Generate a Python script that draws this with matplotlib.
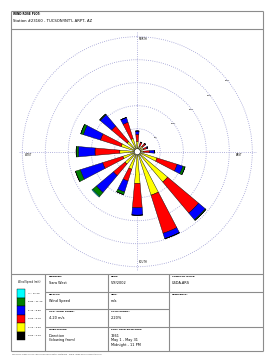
import numpy as np
import matplotlib
matplotlib.use("Agg")
import matplotlib.pyplot as plt

# ---------------- data ----------------
directions = ["N", "NNE", "NE", "ENE", "E", "ESE", "SE", "SSE",
              "S", "SSW", "SW", "WSW", "W", "WNW", "NW", "NNW"]
dir_angles_deg = [0, 22.5, 45, 67.5, 90, 112.5, 135, 157.5,
                  180, 202.5, 225, 247.5, 270, 292.5, 315, 337.5]

speed_classes = ["0.50 - 2.10", "2.10 - 3.60", "3.60 - 5.70",
                 "5.70 - 8.80", "8.80 - 11.10", ">= 11.10"]
class_colors = ["#000000", "#ffff00", "#ff0000", "#0000ff", "#008000", "#00ffff"]

# frequency (%) per direction for each speed class
freq_0_5_2_1 = [0.3, 0.3, 0.3, 0.3, 0.3, 0.3, 0.3, 0.3, 0.3, 0.3, 0.3, 0.3, 0.3, 0.3, 0.3, 0.3]
freq_2_1_3_6 = [1.9, 1.0, 1.2, 1.1, 1.0, 4.2, 8.3, 9.6, 6.6, 3.7, 3.2, 3.0, 3.5, 3.4, 2.6, 2.7]
freq_3_6_5_7 = [1.6, 0.8, 0.8, 0.8, 1.4, 4.6, 8.8, 8.7, 5.3, 2.7, 3.3, 4.6, 5.4, 4.7, 4.4, 3.7]
freq_5_7_8_8 = [0.7, 0.1, 0.1, 0.2, 1.0, 1.3, 1.9, 1.2, 1.6, 2.5, 4.8, 5.1, 3.6, 3.9, 3.2, 1.1]
freq_8_8_11_1 = [0.0, 0.0, 0.0, 0.0, 0.0, 0.5, 0.2, 0.05, 0.0, 0.6, 1.1, 1.1, 0.5, 0.6, 0.2, 0.0]
freq_ge_11_1 = [0.0, 0.0, 0.0, 0.0, 0.0, 0.0, 0.0, 0.0, 0.0, 0.0, 0.2, 0.0, 0.0, 0.0, 0.0, 0.0]

ring_values = [5, 10, 15, 20, 25]
ring_labels = ["5%", "10%", "15%", "20%", "25%"]

station_title = "WIND ROSE PLOT:"
station_name = "Station #23160 - TUCSON/INT'L ARPT, AZ"
legend_title = "Wind Speed (m/s)"

cell_headers = ["MODELER:", "DATE:", "COMPANY NAME:",
                "DISPLAY:", "UNIT:", "COMMENTS:",
                "AVG. WIND SPEED:", "CALM WINDS:",
                "ORIENTATION:", "PLOT YEAR-DATE-TIME:"]
cell_values = ["Sara West", "5/8/2002", "USDA-ARS",
               "Wind Speed", "m/s", "",
               "4.20 m/s", "2.20%",
               "Direction\n(blowing from)", "1961\nMay 1 - May 31\nMidnight - 11 PM"]
footer_text = "WRPLOT View 3.5 by Lakes Environmental Software - www.lakes-environmental.com"

# ---------------- figure ----------------
W, H = 270, 360
fig = plt.figure(figsize=(W / 100, H / 100), dpi=100)
fig.patch.set_facecolor("white")

fr = fig.add_axes([0, 0, 1, 1])
fr.set_xlim(0, W)
fr.set_ylim(H, 0)
fr.axis("off")

frame_c = "#8c8c8c"
lw = 0.8
def hline(y, x0, x1):
    fr.plot([x0, x1], [y, y], color=frame_c, lw=lw, solid_capstyle="butt")
def vline(x, y0, y1):
    fr.plot([x, x], [y0, y1], color=frame_c, lw=lw, solid_capstyle="butt")

L, R, T, B = 11, 263, 11, 351
hline(T, L, R); hline(B, L, R); vline(L, T, B); vline(R, T, B)
hline(29, L, R)
hline(274, L, R)
vline(45, 274, B); vline(108, 274, B); vline(169, 274, B)
hline(292, 45, R); hline(309, 45, 169); hline(327, 45, R)

fr.text(13, 14, station_title, fontsize=2.0, fontweight="bold", va="center", ha="left")
fr.text(13, 20.5, station_name, fontsize=2.7, va="center", ha="left")

# table texts
cells_xy = [(49, 274), (111, 274), (172, 274),
            (49, 292), (111, 292), (172, 292),
            (49, 309), (111, 309),
            (49, 327), (111, 327)]
for (x, y), h, v in zip(cells_xy, cell_headers, cell_values):
    fr.text(x, y + 2.5, h, fontsize=1.7, fontweight="bold", va="center", ha="left")
    fr.text(x, y + 7, v, fontsize=2.5, va="top", ha="left", linespacing=1.1)

# legend
fr.text(29, 281.5, legend_title, fontsize=1.8, va="center", ha="center")
box_top, box_h = 289, 8.5
for i, (lab, col) in enumerate(zip(speed_classes[::-1], class_colors[::-1])):
    y0 = box_top + i * box_h
    fr.add_patch(plt.Rectangle((17, y0), 7.5, box_h, facecolor=col,
                               edgecolor="black", lw=0.3))
    fr.text(28, y0 + box_h / 2, lab, fontsize=1.7, va="center", ha="left")

fr.text(12, 354.5, footer_text, fontsize=1.5, va="center", ha="left", color="#555555")

# compass labels
fr.text(143, 39, "NORTH", fontsize=1.8, va="center", ha="center")
fr.text(143, 262, "SOUTH", fontsize=1.8, va="center", ha="center")
fr.text(29, 155, "WEST", fontsize=1.8, va="center", ha="center")
fr.text(239, 155, "EAST", fontsize=1.8, va="center", ha="center")

# ---------------- polar wind rose ----------------
cx, cy = 137.3, 151.7
rpx25 = 115.0
rmax = 26.0
rpx = rpx25 * rmax / 25
ax = fig.add_axes([(cx - rpx) / W, 1 - (cy + rpx) / H, 2 * rpx / W, 2 * rpx / H],
                  projection="polar")
ax.set_facecolor("none")
ax.patch.set_alpha(0)
ax.set_theta_zero_location("N")
ax.set_theta_direction(-1)
ax.set_ylim(0, rmax)
ax.spines["polar"].set_visible(False)
ax.set_rgrids(ring_values, labels=[""] * len(ring_values))
ax.set_thetagrids([0, 90, 180, 270], labels=[""] * 4)
ax.grid(True, color="#9a9ad2", linestyle=(0, (1, 1.6)), linewidth=0.6)
ax.tick_params(length=0)

theta = np.deg2rad(dir_angles_deg)
width = np.deg2rad(10.0)
series = [freq_0_5_2_1, freq_2_1_3_6, freq_3_6_5_7, freq_5_7_8_8, freq_8_8_11_1, freq_ge_11_1]
bottom = np.zeros(len(directions))
for vals, col in zip(series, class_colors):
    vals = np.array(vals)
    ax.bar(theta, vals, width=width, bottom=bottom, color=col,
           edgecolor="black", linewidth=0.3, zorder=3)
    bottom = bottom + vals

ax.add_patch(plt.Circle((0, 0), 0.65, transform=ax.transData._b,
                        facecolor="white", edgecolor="black", lw=0.3, zorder=5))

for rv, rl in zip(ring_values, ring_labels):
    ax.text(np.deg2rad(52), rv, rl, fontsize=1.7, ha="center", va="center", zorder=6)

fig.savefig("out.png", dpi=100, facecolor="white")
